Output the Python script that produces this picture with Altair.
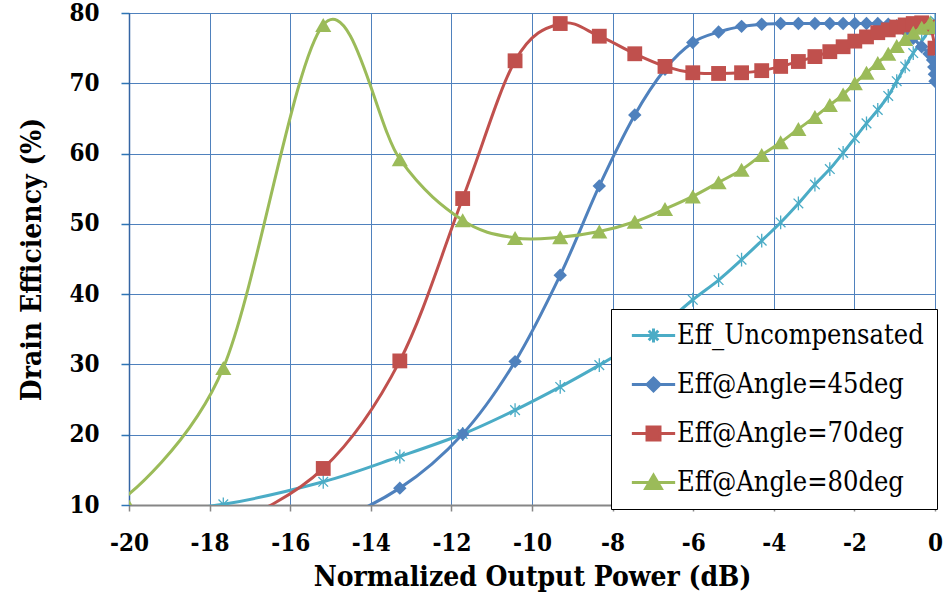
import altair as alt
import pandas as pd

# ---------------- data ----------------
series_names = ["Eff_Uncompensated", "Eff@Angle=45deg", "Eff@Angle=70deg", "Eff@Angle=80deg"]
series_colors = ["#4BACC6", "#4F81BD", "#C0504D", "#9BBB59"]

x_common = [-20.12, -17.66, -15.18, -13.28, -11.72, -10.42, -9.30, -8.33, -7.45, -6.70,
            -6.01, -5.37, -4.80, -4.30, -3.83, -3.39, -2.98, -2.61, -2.28, -1.99,
            -1.70, -1.42, -1.16, -0.95, -0.74, -0.54, -0.33, -0.12, 0.0]

eff_uncomp = [8.7, 10.1, 13.3, 16.9, 20.1, 23.5, 26.8, 29.9, 32.9, 35.9,
              39.2, 42.0, 44.9, 47.6, 50.2, 52.9, 55.6, 57.8, 60.1, 62.2,
              64.3, 66.2, 68.2, 70.3, 72.4, 74.3, 76.0, 77.8, 78.9]

x_45 = [-20.12, -17.66, -15.18, -13.28, -11.72, -10.42, -9.30, -8.33, -7.45, -6.70,
        -6.01, -5.37, -4.80, -4.30, -3.83, -3.39, -2.98, -2.61, -2.28, -1.99,
        -1.70, -1.42, -1.16, -0.95, -0.74, -0.54, -0.33, -0.15, -0.06, -0.03,
        -0.015, 0.0]
eff_45 = [2.0, 4.0, 7.2, 12.4, 20.1, 30.4, 42.7, 55.4, 65.5, 72.0,
          75.8, 77.3, 78.1, 78.4, 78.5, 78.5, 78.5, 78.5, 78.5, 78.5,
          78.5, 78.5, 78.4, 78.2, 77.5, 76.4, 75.2, 74.2, 73.3, 72.3,
          71.3, 70.3]

eff_70 = [3.0, 6.8, 15.2, 30.5, 53.6, 73.2, 78.5, 76.7, 74.2, 72.4,
          71.5, 71.4, 71.5, 71.8, 72.4, 73.1, 73.8, 74.5, 75.2, 76.0,
          76.6, 77.2, 77.6, 78.0, 78.3, 78.5, 78.6, 78.0, 75.0]

eff_80 = [11.0, 29.5, 78.3, 59.2, 50.5, 48.0, 48.1, 48.9, 50.3, 52.1,
          53.9, 55.9, 57.7, 59.8, 61.6, 63.5, 65.2, 66.9, 68.4, 70.0,
          71.5, 72.9, 74.2, 75.3, 76.3, 77.2, 77.9, 78.6, 78.0]

x_ticks = list(range(-20, 1, 2))
y_ticks = list(range(10, 81, 10))

# marker shapes (plot) and legend symbols (line + marker)
asterisk = "M-0.7,-0.7L0.7,0.7M-0.7,0.7L0.7,-0.7M0,-1L0,1"
marker_shapes = [asterisk, "diamond", "square", "triangle-up"]
marker_sizes = [190, 180, 220, 260]
legend_paths = [
    "M-2.5,0L2.5,0M-0.55,-0.55L0.55,0.55M-0.55,0.55L0.55,-0.55M0,-0.8L0,0.8",
    "M-2.5,0L2.5,0M0,-0.75L0.75,0L0,0.75L-0.75,0Z",
    "M-2.5,0L2.5,0M-0.75,-0.75L0.75,-0.75L0.75,0.75L-0.75,0.75Z",
    "M-2.5,0L2.5,0M0,-0.85L0.9,0.7L-0.9,0.7Z",
]

rows = []
for name, xs, ys in zip(series_names, [x_common, x_45, x_common, x_common],
                        [eff_uncomp, eff_45, eff_70, eff_80]):
    for xv, yv in zip(xs, ys):
        rows.append({"series": name, "x": xv, "y": yv})
df = pd.DataFrame(rows)

FONT = "DejaVu Serif Condensed, DejaVu Serif"

xenc = alt.X("x:Q",
             scale=alt.Scale(domain=[-20, 0], nice=False, zero=False),
             axis=alt.Axis(values=x_ticks, title="Normalized Output Power (dB)",
                           labelFlush=False, labelOverlap=False,
                           labelExpr="'' + datum.value"))
yenc = alt.Y("y:Q",
             scale=alt.Scale(domain=[10, 80], nice=False, zero=False),
             axis=alt.Axis(values=y_ticks, title="Drain Efficiency (%)",
                           labelOverlap=False, labelExpr="'' + datum.value"))

base = alt.Chart(df)
layers = []
for i, name in enumerate(series_names):
    sub = base.transform_filter(alt.datum.series == name)
    layers.append(sub.mark_line(color=series_colors[i], strokeWidth=3,
                                interpolate="cardinal", clip=True).encode(x=xenc, y=yenc))
    if i == 0:
        pts = sub.mark_point(shape=marker_shapes[i], size=marker_sizes[i], filled=False,
                             stroke=series_colors[i], strokeWidth=1.3, opacity=1, clip=True)
    else:
        pts = sub.mark_point(shape=marker_shapes[i], size=marker_sizes[i], filled=True,
                             color=series_colors[i], opacity=1, clip=True)
    layers.append(pts.encode(x=xenc, y=yenc))

legend_cfg = alt.Legend(title=None, orient="none", legendX=482, legendY=296,
                        padding=13, fillColor="white", strokeColor="black",
                        symbolSize=300, symbolStrokeWidth=3, symbolOffset=16,
                        labelOffset=10, labelFont=FONT, labelFontSize=27,
                        labelColor="black", rowPadding=21, labelLimit=400)

legend_layer = base.transform_filter("false").mark_point(filled=True, opacity=1, strokeWidth=3).encode(
    fill=alt.Fill("series:N", scale=alt.Scale(domain=series_names, range=series_colors), legend=legend_cfg),
    stroke=alt.Stroke("series:N", scale=alt.Scale(domain=series_names, range=series_colors), legend=legend_cfg),
    shape=alt.Shape("series:N", scale=alt.Scale(domain=series_names, range=legend_paths), legend=legend_cfg),
)
layers.append(legend_layer)

chart = alt.layer(*layers).properties(
    width=806, height=492,
    autosize=alt.AutoSizeParams(type="none"),
    padding={"left": 129, "top": 13, "right": 8, "bottom": 94},
).configure_view(
    stroke="black", strokeWidth=1
).configure_axis(
    gridColor="#4F81BD", gridWidth=1, gridOpacity=1,
    labelFont=FONT, labelFontWeight="bold", labelFontSize=24, labelColor="black",
    titleFont=FONT, titleFontWeight="bold", titleFontSize=28, titleColor="black",
).configure_axisX(
    domainColor="#868686", domainWidth=2, tickColor="#868686", tickSize=6, tickWidth=1.5,
    labelPadding=20, titlePadding=8,
).configure_axisY(
    domainColor="#3465A4", domainWidth=1.5, tickColor="#2E75B6", tickSize=8, tickWidth=1.5,
    labelPadding=22, titlePadding=22,
)

chart.save("out.html", embed_options={"renderer": "svg", "actions": False})
